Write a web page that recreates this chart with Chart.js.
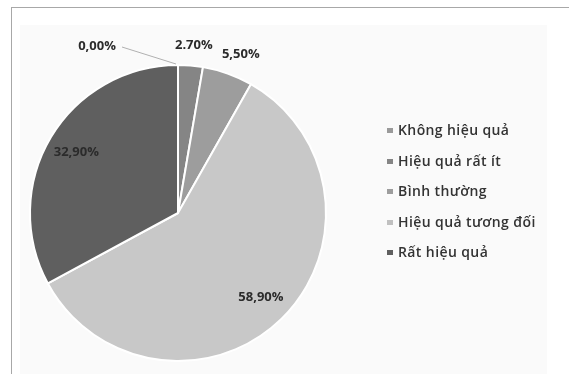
<!DOCTYPE html>
<html>
<head>
<meta charset="utf-8">
<script src="https://cdn.jsdelivr.net/npm/chart.js@4.4.1/dist/chart.umd.min.js"></script>
<style>
    html, body { margin: 0; padding: 0; background: #ffffff; }
    #frame { position: relative; width: 569px; height: 374px; overflow: hidden; }
    #border { position: absolute; left: 11px; top: 7px; right: 0; bottom: 0; border-left: 1px solid #a8a8a8; border-top: 1px solid #a8a8a8; }
    #panel { position: absolute; left: 20px; top: 25px; width: 527px; height: 349px; background: #fafafa; }
    #chart-wrap { position: absolute; left: 0; top: 0; width: 569px; height: 374px; }
    #legend { position: absolute; left: 387px; top: 120px; margin: 0; padding: 0; list-style: none;
        font-family: "Open Sans", sans-serif; font-size: 14px; font-weight: 600; color: #333333; letter-spacing: 0.4px; }
    #legend li { height: 30.5px; display: flex; align-items: flex-start; white-space: nowrap; }
    #legend span.box { display: inline-block; width: 6px; height: 5px; margin: 8px 5px 0 0; }
</style>
</head>
<body>
<div id="frame">
    <div id="border"></div>
    <div id="panel"></div>
    <div id="chart-wrap"><canvas id="pie" width="569" height="374"></canvas></div>
    <ul id="legend"></ul>
</div>
<script>
(() => {
    const categories = ["Không hiệu quả", "Hiệu quả rất ít", "Bình thường", "Hiệu quả tương đối", "Rất hiệu quả"];
    const percentValues = [0.0, 2.7, 5.5, 58.9, 32.9];
    const percentLabels = ["0,00%", "2.70%", "5,50%", "58,90%", "32,90%"];
    const sliceColors = ["#b4b4b4", "#858585", "#9d9d9d", "#c8c8c8", "#5f5f5f"];
    const legendColors = ["#9a9a9a", "#858585", "#9d9d9d", "#c0c0c0", "#5f5f5f"];

    const canvas = document.getElementById("pie");

    // labels: inside the big slices, outside the thin ones, zero gets a leader line
    const sliceLabels = {
        id: "sliceLabels",
        afterDatasetsDraw(chart) {
            const ctx = chart.ctx;
            const arcs = chart.getDatasetMeta(0).data;
            ctx.save();
            ctx.font = "bold 13px 'Open Sans', sans-serif";
            ctx.fillStyle = "#2b2b2b";
            ctx.textAlign = "center";
            ctx.textBaseline = "middle";
            arcs.forEach((arc, index) => {
                const { x, y, startAngle, endAngle, outerRadius } = arc.getProps(["x", "y", "startAngle", "endAngle", "outerRadius"], true);
                const mid = (startAngle + endAngle) / 2;
                const value = percentValues[index];
                if (value === 0) {
                    const tipX = x + Math.cos(mid) * outerRadius;
                    const tipY = y + Math.sin(mid) * outerRadius;
                    const textX = tipX - 81;
                    const textY = tipY - 19;
                    ctx.strokeStyle = "#b0b0b0";
                    ctx.lineWidth = 1;
                    ctx.beginPath();
                    ctx.moveTo(textX + 25, textY + 1);
                    ctx.lineTo(tipX - 2, tipY - 1);
                    ctx.stroke();
                    ctx.fillText(percentLabels[index], textX, textY);
                    return;
                }
                if (value < 10) {
                    // outside, nudged sideways by half the text width
                    const half = ctx.measureText(percentLabels[index]).width / 2;
                    const r = outerRadius + 20;
                    ctx.fillText(percentLabels[index], x + Math.cos(mid) * r + Math.cos(mid) * half, y + Math.sin(mid) * r);
                    return;
                }
                const r = outerRadius * 0.8;
                ctx.fillText(percentLabels[index], x + Math.cos(mid) * r, y + Math.sin(mid) * r);
            });
            ctx.restore();
        },
    };

    new Chart(canvas, {
        type: "pie",
        data: {
            labels: categories,
            datasets: [
                {
                    data: percentValues,
                    backgroundColor: sliceColors,
                    borderColor: "#ffffff",
                    borderWidth: 2,
                },
            ],
        },
        options: {
            responsive: false,
            animation: false,
            layout: {
                padding: { left: 28, top: 64, right: 241, bottom: 12 },
            },
            plugins: {
                legend: { display: false },
                tooltip: { enabled: false },
            },
        },
        plugins: [sliceLabels],
    });

    const legend = document.getElementById("legend");
    categories.forEach((name, index) => {
        const item = document.createElement("li");
        const box = document.createElement("span");
        box.className = "box";
        box.style.background = legendColors[index];
        item.appendChild(box);
        item.appendChild(document.createTextNode(name));
        legend.appendChild(item);
    });
})();
</script>
</body>
</html>
